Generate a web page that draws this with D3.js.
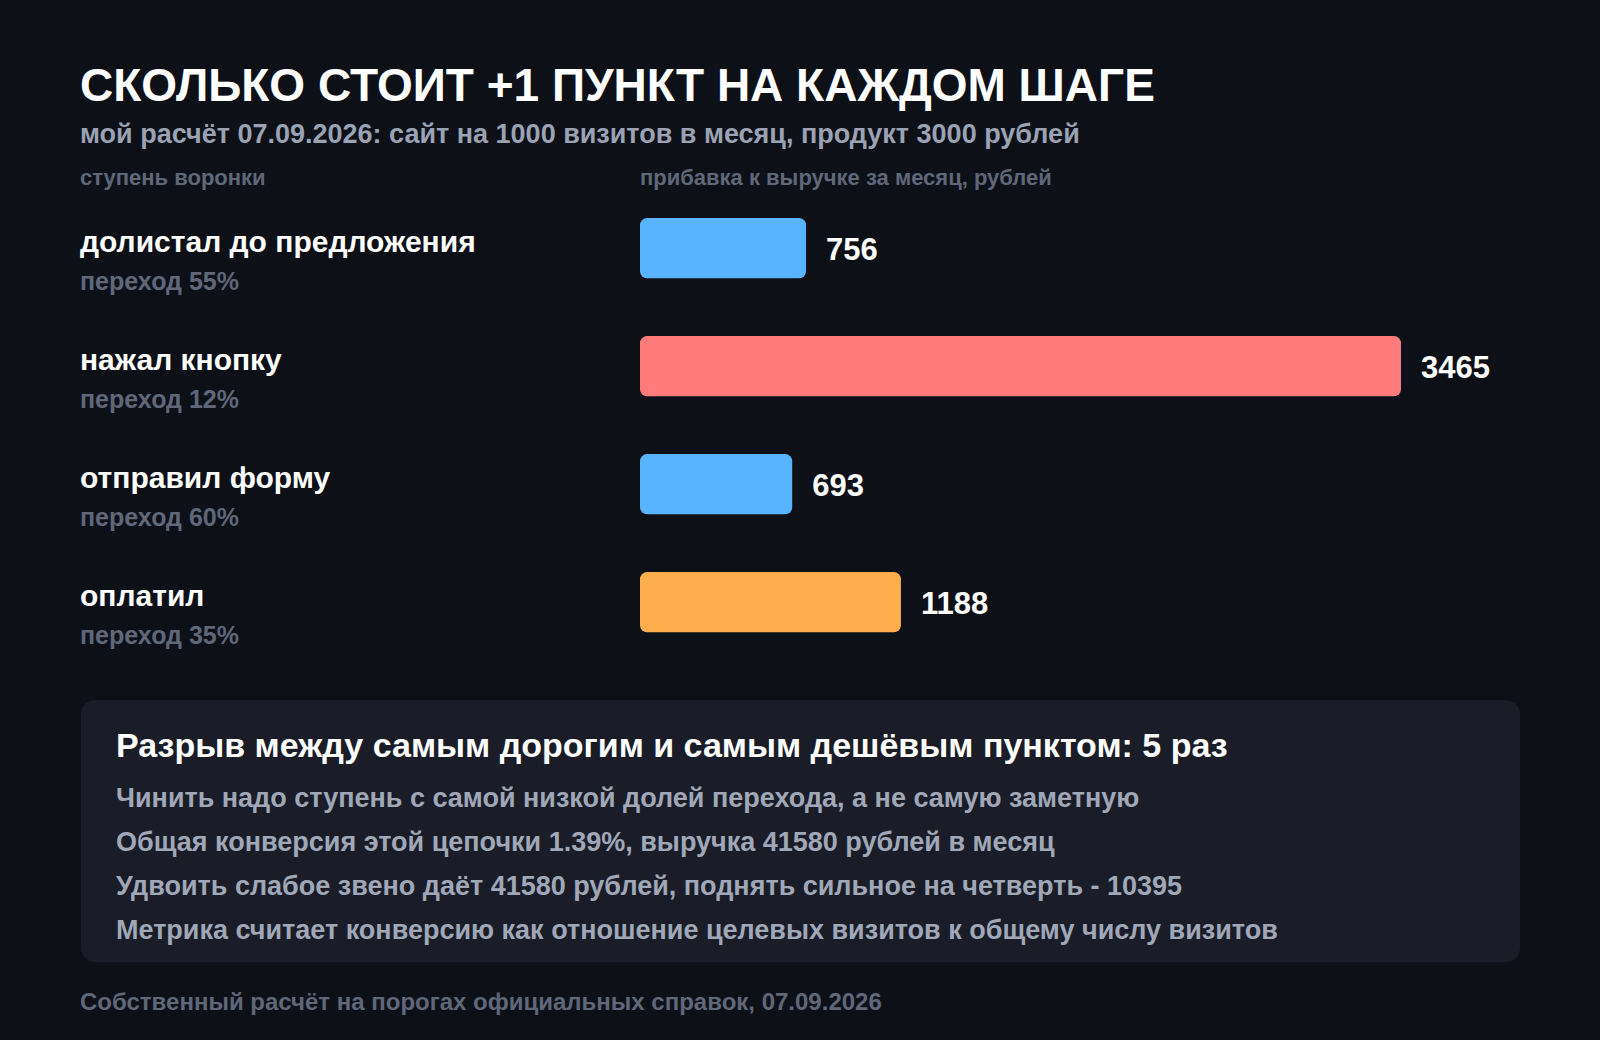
<!DOCTYPE html>
<html><head><meta charset="utf-8">
<script src="https://cdn.jsdelivr.net/npm/d3@7"></script>
<style>
html,body{margin:0;padding:0;background:#0d1017;}
svg{display:block;font-family:"Liberation Sans",Arial,sans-serif;}
</style></head>
<body>
<svg id="chart" width="1600" height="1040"></svg>
<script>
const stages = ["долистал до предложения","нажал кнопку","отправил форму","оплатил"];
const transitions = ["переход 55%","переход 12%","переход 60%","переход 35%"];
const values = [756, 3465, 693, 1188];
const barColors = ["#58b4ff","#ff7b7b","#58b4ff","#ffae4d"];
const titleText = "СКОЛЬКО СТОИТ +1 ПУНКТ НА КАЖДОМ ШАГЕ";
const subtitleText = "мой расчёт 07.09.2026: сайт на 1000 визитов в месяц, продукт 3000 рублей";
const colHeaders = ["ступень воронки","прибавка к выручке за месяц, рублей"];
const calloutTitle = "Разрыв между самым дорогим и самым дешёвым пунктом: 5 раз";
const calloutLines = [
  "Чинить надо ступень с самой низкой долей перехода, а не самую заметную",
  "Общая конверсия этой цепочки 1.39%, выручка 41580 рублей в месяц",
  "Удвоить слабое звено даёт 41580 рублей, поднять сильное на четверть - 10395",
  "Метрика считает конверсию как отношение целевых визитов к общему числу визитов"
];
const footerText = "Собственный расчёт на порогах официальных справок, 07.09.2026";

const svg = d3.select("#chart");
svg.append("rect").attr("width",1600).attr("height",1040).attr("fill","#0d1017");

svg.append("text").attr("x",80).attr("y",101).attr("fill","#ffffff")
  .attr("font-size",46).attr("font-weight","bold").text(titleText);
svg.append("text").attr("x",80).attr("y",143).attr("fill","#9aa2b3")
  .attr("font-size",27).attr("font-weight","bold").text(subtitleText);
svg.append("text").attr("x",80).attr("y",185).attr("fill","#5f6778")
  .attr("font-size",22).attr("font-weight","bold").text(colHeaders[0]);
svg.append("text").attr("x",640).attr("y",185).attr("fill","#5f6778")
  .attr("font-size",22).attr("font-weight","bold").text(colHeaders[1]);

const x = d3.scaleLinear().domain([0, d3.max(values)]).range([640, 1401]);
const y = d3.scaleBand().domain(stages).range([188, 662.4]).paddingInner(0.49).paddingOuter(0.255);

const rows = svg.append("g").selectAll("g").data(stages).join("g");
rows.append("rect")
  .attr("x", x(0)).attr("y", d => y(d))
  .attr("width", (d,i) => x(values[i]) - x(0))
  .attr("height", y.bandwidth())
  .attr("rx", 7).attr("fill", (d,i) => barColors[i]);
rows.append("text")
  .attr("x", (d,i) => x(values[i]) + 20)
  .attr("y", d => y(d) + y.bandwidth()/2 + 12)
  .attr("fill","#ffffff").attr("font-size",31).attr("font-weight","bold")
  .text((d,i) => values[i]);
rows.append("text")
  .attr("x",80).attr("y", d => y(d) + 34)
  .attr("fill","#ffffff").attr("font-size",30).attr("font-weight","bold")
  .text(d => d);
rows.append("text")
  .attr("x",80).attr("y", d => y(d) + 72)
  .attr("fill","#5f6778").attr("font-size",25).attr("font-weight","bold")
  .text((d,i) => transitions[i]);

svg.append("rect").attr("x",81).attr("y",700).attr("width",1439).attr("height",262)
  .attr("rx",14).attr("fill","#1a1d27");
svg.append("text").attr("x",116).attr("y",757).attr("fill","#ffffff")
  .attr("font-size",34).attr("font-weight","bold").text(calloutTitle);
svg.append("g").selectAll("text").data(calloutLines).join("text")
  .attr("x",116).attr("y",(d,i) => 807 + i*44)
  .attr("fill","#a0a8b8").attr("font-size",27).attr("font-weight","bold")
  .text(d => d);
svg.append("text").attr("x",80).attr("y",1010).attr("fill","#5f6778")
  .attr("font-size",24).attr("font-weight","bold").text(footerText);
</script>
</body></html>
